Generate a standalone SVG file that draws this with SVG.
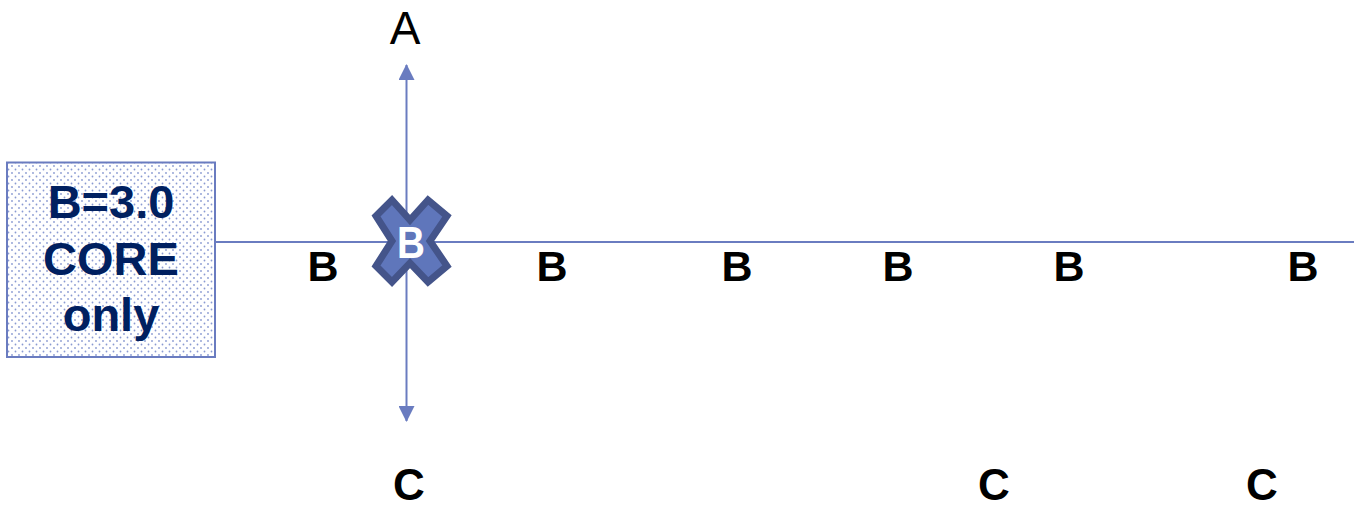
<svg xmlns="http://www.w3.org/2000/svg" width="1354" height="510" viewBox="0 0 1354 510">
<defs>
<style>
.conn{stroke:#6a7cc0;stroke-width:2;fill:none}
.lbl{font-family:"Liberation Sans",Arial,sans-serif;font-weight:bold;font-size:43px;fill:#000;text-anchor:middle}
.lblc{font-family:"Liberation Sans",Arial,sans-serif;font-weight:bold;font-size:44px;fill:#000;text-anchor:middle}
.box{font-family:"Liberation Sans",Arial,sans-serif;font-weight:bold;font-size:47px;fill:#002060;text-anchor:middle}
</style>
<pattern id="dots" width="7" height="7" patternUnits="userSpaceOnUse">
<rect width="7" height="7" fill="#ffffff"/>
<circle cx="1.5" cy="1.5" r="0.9" fill="#8a9ad2"/>
<circle cx="5" cy="5" r="0.9" fill="#8a9ad2"/>
</pattern>
<marker id="arrow" viewBox="0 0 16 16" refX="15" refY="8" markerWidth="16" markerHeight="16" markerUnits="userSpaceOnUse" orient="auto">
<path d="M0,0 L16,8 L0,16 z" fill="#6a7cc0"/>
</marker>
</defs>
<rect width="1354" height="510" fill="#ffffff"/>
<g id="connectors">
<line class="conn" x1="215" y1="242" x2="1354" y2="242"/>
<line class="conn" x1="406.5" y1="242" x2="406.5" y2="65" marker-end="url(#arrow)"/>
<line class="conn" x1="406.5" y1="242" x2="406.5" y2="421" marker-end="url(#arrow)"/>
</g>
<g id="core-box">
<rect x="7" y="162.5" width="208" height="194.5" fill="url(#dots)" stroke="#6a7cc0" stroke-width="2"/>
<text class="box" x="111" y="218">B=3.0</text>
<text class="box" x="111" y="275">CORE</text>
<text class="box" x="111" y="331">only</text>
</g>
<g id="x-marker">
<polygon points="392,200 410,220 428,200 447,216 430,241 447,266 428,282 410,263 392,282 376,266 392,241 376,216" fill="#5f76bb" stroke="#44548a" stroke-width="7" stroke-linejoin="miter"/>
<text x="0" y="0" transform="translate(411,258) scale(0.86,1)" font-family="'Liberation Sans',Arial,sans-serif" font-weight="bold" font-size="45" fill="#ffffff" text-anchor="middle">B</text>
</g>
<g id="label-A">
<text x="405" y="44" font-family="'Liberation Sans',Arial,sans-serif" font-size="46" fill="#000" text-anchor="middle">A</text>
</g>
<g id="labels-B">
<text class="lbl" x="323" y="281">B</text>
<text class="lbl" x="552" y="281">B</text>
<text class="lbl" x="737" y="281">B</text>
<text class="lbl" x="898" y="281">B</text>
<text class="lbl" x="1069" y="281">B</text>
<text class="lbl" x="1303" y="281">B</text>
</g>
<g id="labels-C">
<text class="lblc" x="409" y="500">C</text>
<text class="lblc" x="994" y="500">C</text>
<text class="lblc" x="1262" y="500">C</text>
</g>
</svg>
